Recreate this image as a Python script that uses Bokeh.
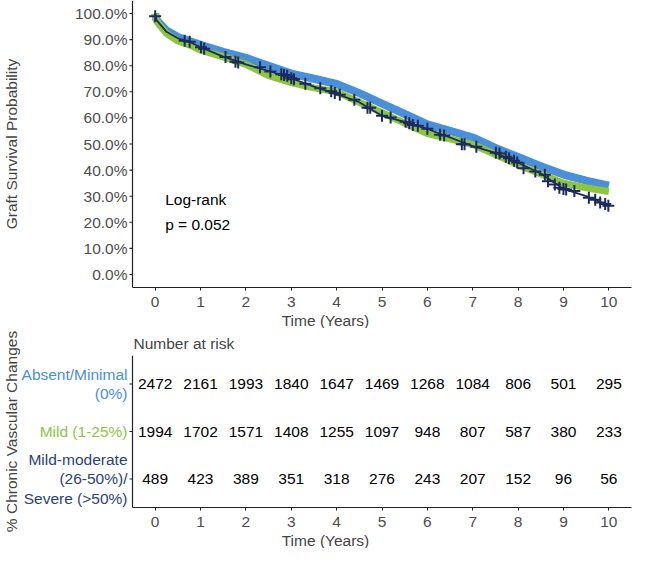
#Kaplan-Meier graft survival by chronic vascular changes, with number-at-risk table

from bokeh.plotting import figure
from bokeh.layouts import column
from bokeh.models import FixedTicker, Label, Range1d, Title
from bokeh.core.properties import value
from bokeh.embed import file_html
from bokeh.resources import INLINE

FONT = "Liberation Sans"
FS = "15.5px"

#### DATA ####
years = [0, 0.03, 0.25, 0.5, 0.75, 1, 1.5, 2, 2.5, 3, 3.5, 4, 4.5, 5, 5.5,
         6, 6.5, 7, 7.5, 8, 8.5, 9, 9.5, 10]

#survival in percent for each group
surv_absent = [100, 97.5, 93.5, 91, 89.5, 88, 85.3, 83, 80, 77, 75, 73, 69.5,
               65.5, 61.5, 57.5, 55, 52.5, 48.5, 45, 41.5, 38.3, 36, 34]
surv_mild = [100, 97, 92.3, 89.5, 88, 86, 83.4, 80.5, 76.2, 73.5, 71.5, 70, 66,
             62, 58, 54, 52, 49.8, 46, 42, 38.5, 35, 33.2, 31.8]
surv_severe = [100, 97.5, 93, 90.5, 89.2, 87.1, 83.5, 80.5, 78, 75.2, 72, 69.2,
               66, 60.8, 58.5, 55.8, 52.5, 49.2, 46.6, 42.8, 38.7, 32.8, 30, 26.3]

#censor marks visible on the severe curve
censor_t_severe = [0, 0.65, 0.76, 1.01, 1.08, 1.55, 1.77, 1.83, 2.31, 2.54, 2.78,
                   2.84, 2.91, 3.0, 3.06, 3.31, 3.64, 3.88, 3.96, 4.07, 4.39, 4.68,
                   4.74, 5.0, 5.19, 5.52, 5.6, 5.68, 5.79, 6.0, 6.28, 6.37, 6.76,
                   6.82, 7.08, 7.51, 7.59, 7.73, 7.8, 7.91, 7.98, 8.12, 8.38, 8.59,
                   8.66, 8.81, 8.91, 9.0, 9.06, 9.24, 9.56, 9.7, 9.81, 9.92, 9.99]
censor_s_severe = [99, 89.6, 89.2, 87.1, 86.5, 83.3, 81.5, 81.2, 79.4, 77.8, 76.7,
                   76.4, 76.2, 75.2, 74.8, 73.1, 71.4, 70.2, 69.5, 68.9, 67, 63.9,
                   63.9, 60.8, 60.2, 58.5, 58, 57.3, 57, 55.8, 53.5, 53.3, 49.9,
                   49.9, 48.9, 46.6, 46.4, 45.1, 44.5, 43.6, 42.9, 40.7, 39.5, 38.2,
                   35.7, 34.5, 33.2, 32.8, 32.6, 32, 29.4, 28.6, 27.6, 27, 26.3]

surv_ticks = [0, 10, 20, 30, 40, 50, 60, 70, 80, 90, 100]

#number at risk
risk_years = [0, 1, 2, 3, 4, 5, 6, 7, 8, 9, 10]
risk_absent = [2472, 2161, 1993, 1840, 1647, 1469, 1268, 1084, 806, 501, 295]
risk_mild = [1994, 1702, 1571, 1408, 1255, 1097, 948, 807, 587, 380, 233]
risk_severe = [489, 423, 389, 351, 318, 276, 243, 207, 152, 96, 56]

group_names = ["Absent/Minimal\n(0%)", "Mild (1-25%)",
               "Mild-moderate\n(26-50%)/\nSevere (>50%)"]
group_colors = ["#4A8FD8", "#8CC63F", "#1C2B5E"]
label_colors = ["#4A8FD8", "#8CC63F", "#2B3F78"]

pvalue_text = ["Log-rank", "p = 0.052"]

#layout numbers (pixels)
BORDER = 18          #room for the rotated y titles
LEFT_IN = 113        #part of each frame left of the y axis (tick labels, row names)
FRAME_W = 499        #width of the data area
PX_PER_YEAR = FRAME_W / 11.0
X_LEFT = -0.5 - LEFT_IN / PX_PER_YEAR
TICK_LEN = 3 / PX_PER_YEAR
AXIS_COLOR = "#222222"
TICK_LABEL_COLOR = "#4D4D4D"


def make_fig(frame_h, y0, y1, ytitle):
    f = figure(frame_width=FRAME_W + LEFT_IN, frame_height=frame_h,
               x_range=Range1d(X_LEFT, 10.5), y_range=Range1d(y0, y1),
               output_backend="svg", toolbar_location=None, y_axis_location=None,
               min_border_left=BORDER, min_border_right=1, min_border_top=0,
               min_border_bottom=0)
    f.xgrid.grid_line_color = None
    f.ygrid.grid_line_color = None
    f.outline_line_color = None
    ax = f.xaxis[0]
    ax.ticker = FixedTicker(ticks=risk_years)
    ax.bounds = (-0.5, 10.5)
    ax.axis_line_color = AXIS_COLOR
    ax.axis_line_width = 1.2
    ax.major_tick_line_color = AXIS_COLOR
    ax.major_tick_in = 0
    ax.major_tick_out = 3
    ax.minor_tick_line_color = None
    ax.major_label_text_font = FONT
    ax.major_label_text_font_size = FS
    ax.major_label_text_color = TICK_LABEL_COLOR
    ax.major_label_standoff = 6
    f.add_layout(Title(text="Time (Years)", align="center", offset=LEFT_IN / 2,
                       text_font=FONT, text_font_size=FS,
                       text_font_style="normal", standoff=0), "below")
    f.add_layout(Title(text=ytitle, align="center", text_font=FONT,
                       text_font_size=FS, text_font_style="normal", standoff=0),
                 "left")
    #left axis line drawn in the frame
    f.segment(x0=[-0.5], y0=[y0], x1=[-0.5], y1=[y1], line_color=AXIS_COLOR,
              line_width=1.2)
    return f


#### SURVIVAL PLOT ####
p = make_fig(287, -5, 105, "Graft Survival Probability")
p.segment(x0=[-0.5 - TICK_LEN] * len(surv_ticks), y0=surv_ticks,
          x1=[-0.5] * len(surv_ticks), y1=surv_ticks, line_color=AXIS_COLOR,
          line_width=1.1)
p.text(x=[-0.5] * len(surv_ticks), y=surv_ticks, x_offset=-5,
       text=["%.1f%%" % t for t in surv_ticks], text_align="right",
       text_baseline="middle", text_font=value(FONT), text_font_size=FS,
       text_color=TICK_LABEL_COLOR)

p.line(years, surv_absent, line_width=8, color=group_colors[0])
p.line(years, surv_mild, line_width=7, color=group_colors[1])
p.line(years, surv_severe, line_width=1.8, color=group_colors[2])
p.scatter(censor_t_severe, censor_s_severe, marker="cross", size=12,
          line_width=2, color=group_colors[2])

for i, t in enumerate(pvalue_text):
    p.add_layout(Label(x=0.22, y=28.6 - 9.4 * i, text=t, text_font=FONT,
                       text_font_size=FS, text_color="black",
                       text_baseline="middle"))

#### NUMBER AT RISK TABLE ####
r = make_fig(152, 0.4, 3.6, "% Chronic Vascular Changes")
r.title.text = "Number at risk"
r.title.text_font = FONT
r.title.text_font_size = FS
r.title.text_font_style = "normal"
r.title.offset = LEFT_IN + 1
r.title.standoff = 8

row_pos = [3, 2, 1]
r.segment(x0=[-0.5 - TICK_LEN] * 3, y0=row_pos, x1=[-0.5] * 3, y1=row_pos,
          line_color=AXIS_COLOR, line_width=1.1)

risk_rows = [risk_absent, risk_mild, risk_severe]
for i, counts in enumerate(risk_rows):
    r.text(x=risk_years, y=[row_pos[i]] * len(counts),
           text=[str(c) for c in counts], text_align="center",
           text_baseline="middle", text_font=value(FONT), text_font_size=FS,
           text_color="black")
    r.text(x=[-0.5], y=[row_pos[i]], x_offset=-5, text=[group_names[i]],
           text_align="right", text_baseline="middle", text_font=value(FONT),
           text_font_size=FS, text_color=label_colors[i], text_line_height=1.15)

page = column(p, r, spacing=0)
open("out.html", "w").write(file_html(page, INLINE))
